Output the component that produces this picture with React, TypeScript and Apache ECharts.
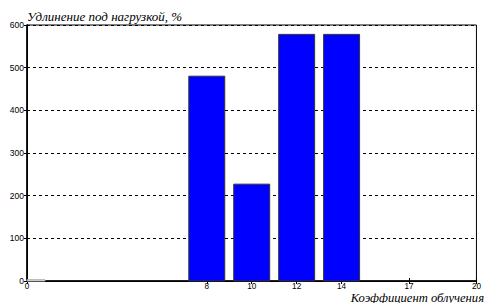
import React, { useEffect, useRef } from "react";
import * as echarts from "echarts";

const coefficients = [0, 8, 10, 12, 14, 17, 20];
const elongation = [3, 480, 227, 578, 578, 0, 0];
const xTickValues = [0, 8, 10, 12, 14, 17, 20];
const yTickValues = [0, 100, 200, 300, 400, 500, 600];
const yTitle = "Удлинение под нагрузкой, %";
const xTitle = "Коэффициент облучения";
const barWidthUnits = 1.6;

export default function App() {
  const ref = useRef<HTMLDivElement>(null);
  useEffect(() => {
    if (!ref.current) return;
    const chart = echarts.init(ref.current, null, { renderer: "svg" });
    const data = coefficients.map((c, i) => [c, elongation[i]]);
    const labelFont = { fontFamily: "Liberation Sans", fontSize: 8.2, color: "#000" };
    const titleFont = { fontFamily: "Times New Roman", fontStyle: "italic", fontWeight: "normal", color: "#000" };
    chart.setOption({
      animation: false,
      backgroundColor: "#fff",
      title: [
        { text: yTitle, left: 27, top: 10, padding: 0, textStyle: { ...titleFont, fontSize: 13 } },
        { text: xTitle, right: 0, top: 291, padding: 0, textStyle: { ...titleFont, fontSize: 12.6 } },
      ],
      grid: { left: 27, right: 2, top: 25, bottom: 22, show: true, borderColor: "#000", borderWidth: 1, backgroundColor: "transparent" },
      xAxis: [
        {
          type: "value", min: 0, max: 20, position: "bottom",
          axisLine: { show: true, lineStyle: { color: "#000", width: 1.5 } },
          axisTick: { show: true, inside: true, length: 3, customValues: xTickValues, lineStyle: { color: "#000" } },
          axisLabel: { show: true, customValues: xTickValues, margin: 1, ...labelFont },
          splitLine: { show: false },
        },
        {
          type: "value", min: 0, max: 20, position: "top",
          axisLine: { show: true, lineStyle: { color: "#000", width: 1 } },
          axisTick: { show: true, inside: true, length: 3, customValues: xTickValues, lineStyle: { color: "#000" } },
          axisLabel: { show: false },
          splitLine: { show: false },
        },
      ],
      yAxis: [
        {
          type: "value", min: 0, max: 600, interval: 100,
          axisLine: { show: true, lineStyle: { color: "#000", width: 1.5 } },
          axisTick: { show: true, inside: true, length: 3, lineStyle: { color: "#000" } },
          axisLabel: { show: true, margin: 3, ...labelFont, fontSize: 8.5, customValues: yTickValues },
          splitLine: { show: true, lineStyle: { color: "#000", type: [3, 3], width: 1 } },
        },
        {
          type: "value", min: 0, max: 600, interval: 100, position: "right",
          axisLine: { show: true, lineStyle: { color: "#000", width: 1 } },
          axisTick: { show: true, inside: true, length: 3, lineStyle: { color: "#000" } },
          axisLabel: { show: false },
          splitLine: { show: false },
        },
      ],
      series: [
        {
          type: "custom",
          xAxisIndex: 0,
          yAxisIndex: 0,
          data,
          renderItem: (params: any, api: any) => {
            const x = api.value(0);
            const y = api.value(1);
            if (!(y > 0)) return null;
            const base = api.coord([x, 0]);
            const top = api.coord([x, y]);
            const w = api.size([barWidthUnits, 0])[0];
            const shape = echarts.graphic.clipRectByRect(
              { x: base[0] - w / 2, y: top[1], width: w, height: base[1] - top[1] },
              { x: params.coordSys.x, y: params.coordSys.y, width: params.coordSys.width, height: params.coordSys.height }
            );
            if (!shape) return null;
            const tiny = y < 10;
            return {
              type: "rect",
              shape,
              style: { fill: tiny ? "#fff" : "#0000ff", stroke: tiny ? "#aaa" : "#333", lineWidth: 1 },
            };
          },
          z: 1,
        },
      ],
    });
    return () => chart.dispose();
  }, []);
  return <div ref={ref} style={{ width: 484, height: 303, position: "absolute", left: 0, top: 0 }} />;
}
